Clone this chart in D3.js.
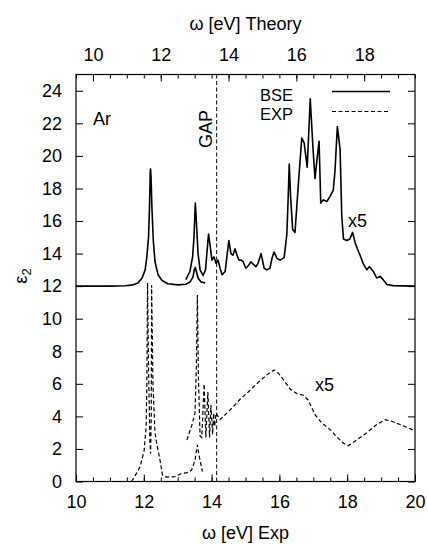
<!DOCTYPE html>
<html>
<head>
<meta charset="utf-8">
<script src="https://cdn.jsdelivr.net/npm/d3@7"></script>
<style>
  html, body { margin: 0; padding: 0; background: #fff; }
  svg { display: block; }
  text { font-family: "Liberation Sans", Arial, Helvetica, sans-serif; fill: #000; }
</style>
</head>
<body>
<svg id="chart" width="428" height="544"></svg>
<script>
// ---- data ----
// BSE (theory energy axis, curve offset by +12), unscaled part
const bseE   = [9.5, 10.5, 10.95, 11.18, 11.33, 11.45, 11.54, 11.59, 11.64, 11.67, 11.69, 11.70, 11.715, 11.74, 11.78, 11.83, 11.92, 12.04, 12.21, 12.51, 12.74, 12.86, 12.95, 12.99, 13.02, 13.05, 13.10, 13.19, 13.31];
const bseEps = [12.0, 12.0, 12.02, 12.08, 12.2, 12.5, 13.0, 13.8, 15.0, 17.0, 19.0, 19.2, 18.6, 16.8, 14.8, 13.5, 12.7, 12.35, 12.15, 12.08, 12.12, 12.25, 12.55, 13.0, 13.15, 12.9, 12.5, 12.25, 12.2];
// BSE x5 part
const bseX5E   = [12.74, 12.86, 12.94, 12.98, 13.02, 13.05, 13.10, 13.16, 13.25, 13.32, 13.36, 13.41, 13.45, 13.51, 13.57, 13.63, 13.69, 13.75, 13.81, 13.90, 13.95, 14.01, 14.07, 14.13, 14.19, 14.25, 14.31, 14.37, 14.43, 14.51, 14.60, 14.66, 14.75, 14.81, 14.87, 14.96, 15.05, 15.13, 15.22, 15.28, 15.34, 15.43, 15.52, 15.64, 15.72, 15.76, 15.79, 15.83, 15.89, 15.96, 16.06, 16.16, 16.23, 16.32, 16.41, 16.49, 16.55, 16.61, 16.67, 16.72, 16.80, 16.90, 16.99, 17.09, 17.14, 17.21, 17.29, 17.34, 17.39, 17.49, 17.58, 17.66, 17.73, 17.80, 17.88, 17.97, 18.08, 18.15, 18.27, 18.37, 18.47, 18.56, 18.67, 18.85, 19.5];
const bseX5Eps = [12.4, 12.9, 13.8, 15.0, 17.1, 16.0, 14.0, 13.0, 12.65, 13.0, 14.0, 15.2, 14.6, 13.6, 13.8, 13.4, 13.6, 13.1, 12.7, 12.9, 13.8, 14.8, 14.0, 13.9, 14.3, 13.9, 13.6, 13.6, 13.5, 13.1, 13.3, 13.5, 13.3, 13.2, 13.4, 14.0, 13.1, 13.0, 13.1, 13.7, 14.1, 13.7, 13.6, 13.75, 15.2, 17.5, 19.5, 17.5, 15.5, 15.3, 18.3, 21.1, 20.8, 19.3, 23.5, 20.5, 18.6, 19.8, 20.9, 17.1, 17.3, 17.2, 17.5, 17.9, 19.1, 21.8, 20.4, 16.3, 14.9, 14.8, 14.9, 15.3, 14.7, 14.3, 13.9, 13.4, 13.0, 13.2, 12.9, 12.5, 12.6, 12.4, 12.1, 12.03, 12.0];
// EXP (experimental energy axis), unscaled part
const expE   = [11.64, 11.77, 11.89, 12.01, 12.07, 12.09, 12.11, 12.14, 12.18, 12.20, 12.22, 12.23, 12.27, 12.33, 12.38, 12.48, 12.55, 12.68, 12.92, 13.12, 13.30, 13.41, 13.51, 13.58, 13.63, 13.66, 13.73];
const expEps = [0, 0.45, 0.9, 1.9, 3.4, 6.0, 12.2, 7.0, 2.5, 1.7, 4.0, 12.05, 6.0, 3.0, 2.35, 1.3, 0.4, 0.27, 0.3, 0.5, 0.55, 0.7, 1.3, 2.25, 1.6, 1.3, 0.6];
// EXP x5 part
const expX5E   = [13.27, 13.41, 13.51, 13.55, 13.58, 13.61, 13.66, 13.71, 13.78, 13.83, 13.89, 13.94, 13.98, 14.03, 14.06, 14.09, 14.13, 14.25, 14.45, 14.64, 14.84, 15.08, 15.33, 15.63, 15.84, 15.97, 16.12, 16.31, 16.51, 16.71, 16.85, 17.05, 17.25, 17.49, 17.69, 17.89, 18.03, 18.28, 18.58, 18.87, 19.12, 19.31, 19.56, 19.80, 20.0];
const expX5Eps = [2.55, 3.4, 4.2, 7.0, 11.45, 6.5, 2.8, 2.7, 6.0, 2.7, 5.5, 2.7, 4.7, 2.9, 4.2, 3.4, 4.2, 3.8, 4.2, 4.6, 5.05, 5.5, 6.0, 6.55, 6.85, 6.65, 6.25, 5.7, 5.4, 5.3, 5.0, 4.1, 3.6, 3.2, 2.75, 2.35, 2.2, 2.55, 3.0, 3.5, 3.8, 3.7, 3.5, 3.3, 3.1];
const gapE = 14.15;
const xTicksExp = [10, 12, 14, 16, 18, 20];
const xTicksTheory = [10, 12, 14, 16, 18];
const yTicks = [0, 2, 4, 6, 8, 10, 12, 14, 16, 18, 20, 22, 24];
const legendLabels = ["BSE", "EXP"];

// ---- layout ----
const svg = d3.select("#chart");
const L = 76, R = 415, T = 74.5, B = 481.5;
const FS = 18;

const x = d3.scaleLinear().domain([10, 20]).range([L, R]);
const xT = d3.scaleLinear().domain([9.5, 19.5]).range([L, R]);
const y = d3.scaleLinear().domain([0, 25]).range([B, T]);

const minorExp = d3.range(10, 20.001, 0.5);
const minorTh = d3.range(9.5, 19.501, 0.5);

function styleAxis(g) {
  g.select(".domain").remove();
  g.selectAll("line").attr("stroke", "#000").attr("stroke-width", 1);
  g.selectAll("text").style("font-size", FS + "px").style("font-family", '"Liberation Sans", Arial, sans-serif');
}

// minor ticks
svg.append("g").attr("transform", `translate(0,${B})`)
  .call(d3.axisBottom(x).tickValues(minorExp).tickSize(-4).tickFormat(""))
  .call(styleAxis);
svg.append("g").attr("transform", `translate(0,${T})`)
  .call(d3.axisTop(xT).tickValues(minorTh).tickSize(-4).tickFormat(""))
  .call(styleAxis);

// major ticks
svg.append("g").attr("transform", `translate(0,${B})`)
  .call(d3.axisBottom(x).tickValues(xTicksExp).tickSize(-7).tickPadding(14).tickFormat(d3.format("d")))
  .call(styleAxis);
svg.append("g").attr("transform", `translate(0,${T})`)
  .call(d3.axisTop(xT).tickValues(xTicksTheory).tickSize(-7).tickPadding(14).tickFormat(d3.format("d")))
  .call(styleAxis);
svg.append("g").attr("transform", `translate(${L},0)`)
  .call(d3.axisLeft(y).tickValues(yTicks).tickSize(-7).tickPadding(14).tickFormat(d3.format("d")))
  .call(styleAxis);
svg.append("g").attr("transform", `translate(${R},0)`)
  .call(d3.axisRight(y).tickValues(yTicks).tickSize(-7).tickFormat(""))
  .call(styleAxis);

// frame
svg.append("rect").attr("x", L).attr("y", T).attr("width", R - L).attr("height", B - T)
  .attr("fill", "none").attr("stroke", "#000").attr("stroke-width", 1.2);

// curves
const lineT = d3.line().x(d => xT(d[0])).y(d => y(d[1]));
const lineX = d3.line().x(d => x(d[0])).y(d => y(d[1]));
const zip = (a, b) => a.map((v, i) => [v, b[i]]);

const plot = svg.append("g");
plot.append("path").datum(zip(bseE, bseEps)).attr("d", lineT)
  .attr("fill", "none").attr("stroke", "#000").attr("stroke-width", 1.6).attr("stroke-linejoin", "round");
plot.append("path").datum(zip(bseX5E, bseX5Eps)).attr("d", lineT)
  .attr("fill", "none").attr("stroke", "#000").attr("stroke-width", 1.6).attr("stroke-linejoin", "round");
plot.append("path").datum(zip(expE, expEps)).attr("d", lineX)
  .attr("fill", "none").attr("stroke", "#000").attr("stroke-width", 1.2).attr("stroke-dasharray", "4,2.5");
plot.append("path").datum(zip(expX5E, expX5Eps)).attr("d", lineX)
  .attr("fill", "none").attr("stroke", "#000").attr("stroke-width", 1.2).attr("stroke-dasharray", "4,2.5");

// gap line
svg.append("line").attr("x1", x(gapE)).attr("x2", x(gapE)).attr("y1", T).attr("y2", B)
  .attr("stroke", "#000").attr("stroke-width", 1).attr("stroke-dasharray", "4,2.5");

// labels
const txt = (s, px, py, anchor, size) => svg.append("text").attr("x", px).attr("y", py)
  .attr("text-anchor", anchor || "start").style("font-size", (size || FS) + "px").text(s);

txt("ω [eV] Theory", (L + R) / 2, 30, "middle");
txt("ω [eV] Exp", (L + R) / 2, 539, "middle");
txt("Ar", 93, 125, "start");
txt("x5", 348, 227, "start");
txt("x5", 315, 391, "start");
svg.append("text").attr("transform", `translate(212,129) rotate(-90)`)
  .attr("text-anchor", "middle").style("font-size", FS + "px").text("GAP");

const yl = svg.append("text").attr("transform", `translate(27,276) rotate(-90)`)
  .attr("text-anchor", "middle").style("font-size", FS + "px");
yl.append("tspan").text("ε");
yl.append("tspan").attr("dy", 4).style("font-size", "13px").text("2");

// legend
txt(legendLabels[0], 293, 101, "end", 16.5);
txt(legendLabels[1], 293, 119.5, "end", 16.5);
svg.append("line").attr("x1", 332).attr("x2", 390).attr("y1", 91.5).attr("y2", 91.5)
  .attr("stroke", "#000").attr("stroke-width", 1.6);
svg.append("line").attr("x1", 332).attr("x2", 390).attr("y1", 111.5).attr("y2", 111.5)
  .attr("stroke", "#000").attr("stroke-width", 1.2).attr("stroke-dasharray", "4,2.5");
</script>
</body>
</html>
